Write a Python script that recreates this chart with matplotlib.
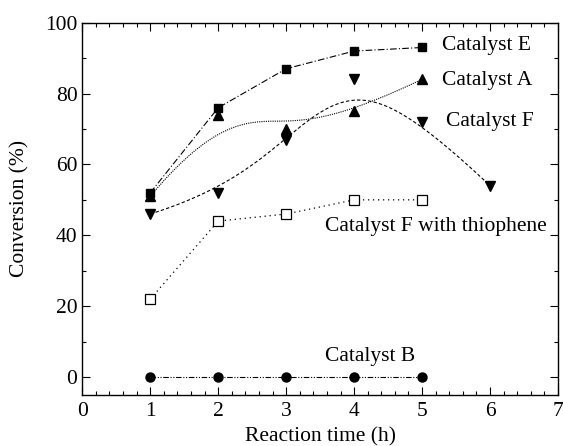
import numpy as np
import matplotlib
matplotlib.use("Agg")
import matplotlib.pyplot as plt
from matplotlib.ticker import MultipleLocator

plt.rcParams['font.family'] = ['Liberation Serif', 'DejaVu Serif']

time_h = [1, 2, 3, 4, 5]
time_f = [1, 2, 3, 4, 5, 6]
cat_e = [52, 76, 87, 92, 93]
cat_a = [51, 74, 70, 75, 84]
cat_f = [46, 52, 67, 84, 72, 54]
cat_f_thio = [22, 44, 46, 50, 50]
cat_b = [0, 0, 0, 0, 0]

labels = ["Catalyst E", "Catalyst A", "Catalyst F", "Catalyst F with thiophene", "Catalyst B"]

fig = plt.figure(figsize=(5.63, 4.46), dpi=100)
ax = fig.add_axes([82.3/563, 1-394.7/446, (558-82.3)/563, (394.7-22.7)/446])


def bspline(x, y, n=300):
    """Clamped cubic B-spline using the data points as control points (Origin style)."""
    P = np.column_stack([x, y]).astype(float)
    m = len(P)
    k = 3
    inner = np.linspace(0, 1, m - k + 1)
    t = np.concatenate([[0] * k, inner, [1] * k])
    us = np.linspace(0, 1, n)
    out = []
    for u in us:
        N = np.zeros(len(t) - 1)
        for i in range(len(t) - 1):
            if t[i] <= u < t[i + 1]:
                N[i] = 1.0
        if u >= 1:
            N[:] = 0
            N[m - 1] = 1.0
        for d in range(1, k + 1):
            Nn = np.zeros(len(t) - 1 - d)
            for i in range(len(Nn)):
                a = 0.0
                if t[i + d] != t[i]:
                    a += (u - t[i]) / (t[i + d] - t[i]) * N[i]
                if t[i + d + 1] != t[i + 1]:
                    a += (t[i + d + 1] - u) / (t[i + d + 1] - t[i + 1]) * N[i + 1]
                Nn[i] = a
            N = Nn
        out.append(N[:m] @ P)
    out = np.array(out)
    return out[:, 0], out[:, 1]


# Catalyst E
ax.plot(time_h, cat_e, color='k', lw=0.8, ls=(0, (6, 2, 1, 2)))
ax.plot(time_h, cat_e, 's', color='k', ms=6)

# Catalyst A
xs, ys = bspline(time_h, cat_a)
ax.plot(xs, ys, color='k', lw=0.8, ls=(0, (1, 1)))
ax.plot(time_h, cat_a, '^', color='k', ms=7.5)

# Catalyst F
xs, ys = bspline(time_f, cat_f)
ax.plot(xs, ys, color='k', lw=0.8, ls=(0, (3, 2)))
ax.plot(time_f, cat_f, 'v', color='k', ms=7.5)

# Catalyst F with thiophene
ax.plot(time_h, cat_f_thio, color='k', lw=0.9, ls=(0, (1, 3)))
ax.plot(time_h, cat_f_thio, 's', mfc='white', mec='k', ms=6.5, mew=0.9)

# Catalyst B
ax.plot(time_h, cat_b, color='k', lw=0.8, ls=(0, (5, 1.5, 1, 1.5, 1, 1.5)))
ax.plot(time_h, cat_b, 'o', color='k', ms=6.5)

fs = 15.5
ax.text(5.29, 93.7, labels[0], fontsize=fs, va='center', ha='left')
ax.text(5.29, 83.8, labels[1], fontsize=fs, va='center', ha='left')
ax.text(5.35, 72.0, labels[2], fontsize=fs, va='center', ha='left')
ax.text(3.57, 42.6, labels[3], fontsize=fs, va='center', ha='left')
ax.text(3.57, 5.8, labels[4], fontsize=fs, va='center', ha='left')

ax.set_xlim(0, 7)
ax.set_ylim(-5, 100)
ax.xaxis.set_major_locator(MultipleLocator(1))
ax.xaxis.set_minor_locator(MultipleLocator(0.2))
ax.yaxis.set_major_locator(MultipleLocator(20))
ax.yaxis.set_minor_locator(MultipleLocator(10))
ax.tick_params(which='both', direction='in', top=True, right=True, labelsize=fs)
ax.tick_params(which='major', length=6, width=0.8)
ax.tick_params(which='minor', length=3, width=0.8)
ax.tick_params(axis='x', which='major', pad=5.5)
for s in ax.spines.values():
    s.set_linewidth(1.0)

ax.set_xlabel("Reaction time (h)", fontsize=fs, labelpad=4)
ax.set_ylabel("Conversion (%)", fontsize=fs, labelpad=11)

fig.savefig("out.png", dpi=100)
